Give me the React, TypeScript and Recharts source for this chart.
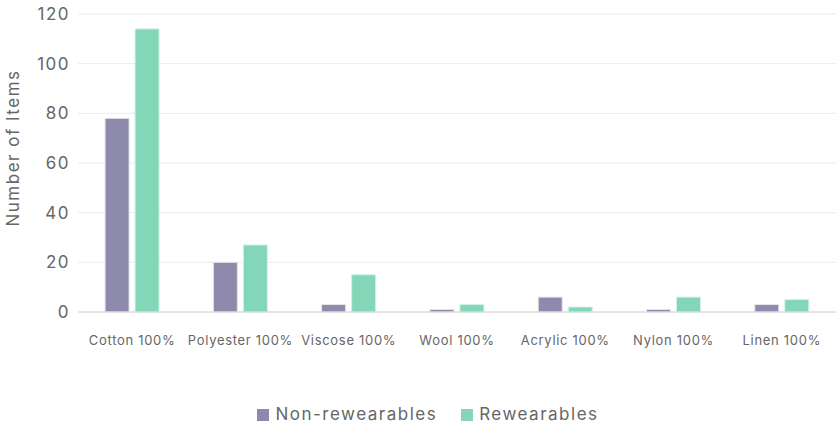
import React from 'react';
import { BarChart, Bar, XAxis, YAxis, CartesianGrid, Legend } from 'recharts';

const CATEGORIES = ['Cotton 100%', 'Polyester 100%', 'Viscose 100%', 'Wool 100%', 'Acrylic 100%', 'Nylon 100%', 'Linen 100%'];
const NON_REWEARABLES = [78, 20, 3, 1, 6, 1, 3];
const REWEARABLES = [114, 27, 15, 3, 2, 6, 5];
const Y_TICKS = [0, 20, 40, 60, 80, 100, 120];

const FONT = 'Inter, "Open Sans", sans-serif';

const data = CATEGORIES.map((name, i) => ({
  name,
  nonRewearables: NON_REWEARABLES[i],
  rewearables: REWEARABLES[i],
}));

export default function App() {
  return (
    <div style={{ position: 'absolute', left: 0, top: 0, fontFamily: FONT }}>
      <BarChart
        width={836}
        height={425}
        data={data}
        margin={{ top: 14, right: 0, left: 0, bottom: 0 }}
        barCategoryGap="25%"
        barGap={6}
      >
        <CartesianGrid vertical={false} stroke="#ebebeb" />
        <XAxis
          dataKey="name"
          height={89}
          tickLine={false}
          axisLine={{ stroke: '#d6d6d6' }}
          tickMargin={18}
          interval={0}
          tick={{ fill: '#666', fontSize: 13, fontFamily: FONT, letterSpacing: 0.7 }}
        />
        <YAxis
          width={78}
          domain={[0, 120]}
          ticks={Y_TICKS}
          axisLine={false}
          tickLine={false}
          tickMargin={2}
          tick={{ fill: '#666', fontSize: 17, fontFamily: FONT, letterSpacing: 1.5 }}
          label={{
            value: 'Number of Items',
            angle: -90,
            position: 'insideLeft',
            dx: 8,
            dy: -15,
            style: { textAnchor: 'middle', fill: '#666', fontSize: 17, fontFamily: FONT, letterSpacing: 1.5 },
          }}
        />
        <Legend
          verticalAlign="bottom"
          height={24}
          iconType="square"
          iconSize={12}
          wrapperStyle={{ fontSize: 17, color: '#666', fontFamily: FONT, letterSpacing: 1.5, bottom: -3, left: 22 }}
          formatter={(value: string) => <span style={{ color: '#666', marginLeft: 2, marginRight: 14 }}>{value}</span>}
        />
        <Bar
          dataKey="nonRewearables"
          name="Non-rewearables"
          fill="#8e8aab"
          stroke="#e6e4ee"
          strokeWidth={1}
          isAnimationActive={false}
        />
        <Bar
          dataKey="rewearables"
          name="Rewearables"
          fill="#84d6b8"
          stroke="#d2f1e6"
          strokeWidth={1}
          isAnimationActive={false}
        />
      </BarChart>
    </div>
  );
}
